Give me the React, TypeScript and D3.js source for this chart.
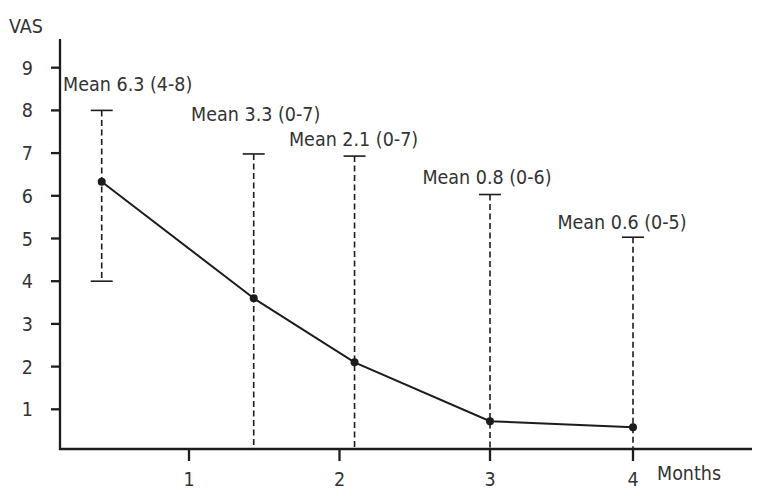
import React, { useEffect, useRef } from 'react';
import * as d3 from 'd3';

// months after treatment and plotted VAS values
const months = [0.42, 1.43, 2.1, 3, 4];
const vasMean = [6.33, 3.6, 2.1, 0.72, 0.58];
const rangeLow = [4, 0, 0, 0, 0];
const rangeHigh = [8, 6.98, 6.93, 6.03, 5.03];
const labels = ['Mean 6.3 (4-8)', 'Mean 3.3 (0-7)', 'Mean 2.1 (0-7)', 'Mean 0.8 (0-6)', 'Mean 0.6 (0-5)'];
const yTicks = [1, 2, 3, 4, 5, 6, 7, 8, 9];
const xTicks = [1, 2, 3, 4];

// label nudges relative to the top of each range bar
const labelDx = [26, 2, -1, -3, -11];
const labelDy = [-19, -33, -10, -11, -8];

const font = "'DejaVu Sans Condensed', sans-serif";

const App = () => {
    const d3svg = useRef(null);

    useEffect(() => {
        if (!d3svg.current) return;
        const svg = d3.select(d3svg.current);
        svg.selectAll('*').remove();

        const x = d3.scaleLinear().domain([0, 3, 4]).range([38.5, 490, 633]);
        const y = d3.scaleLinear().domain([0, 9]).range([452, 67.7]);
        const axisLeft = 60, axisBottom = 449, axisTop = 39, axisRight = 752;
        const ink = '#1c1c1c';
        const textInk = '#333';

        // axes
        svg.append('line').attr('x1', axisLeft).attr('x2', axisLeft)
            .attr('y1', axisTop).attr('y2', axisBottom + 1)
            .attr('stroke', ink).attr('stroke-width', 2.3);
        svg.append('line').attr('x1', axisLeft - 1).attr('x2', axisRight)
            .attr('y1', axisBottom).attr('y2', axisBottom)
            .attr('stroke', ink).attr('stroke-width', 2.3);

        svg.selectAll('.ytick').data(yTicks).enter().append('line')
            .attr('x1', axisLeft - 9).attr('x2', axisLeft)
            .attr('y1', d => y(d)).attr('y2', d => y(d))
            .attr('stroke', ink).attr('stroke-width', 2.3);
        svg.selectAll('.ylab').data(yTicks).enter().append('text')
            .attr('x', 33).attr('y', d => y(d) + 7)
            .attr('text-anchor', 'end')
            .attr('font-family', font).attr('font-size', 19.5).attr('fill', textInk)
            .text(d => d);

        svg.selectAll('.xtick').data(xTicks).enter().append('line')
            .attr('x1', d => x(d)).attr('x2', d => x(d))
            .attr('y1', axisBottom).attr('y2', axisBottom + 12)
            .attr('stroke', ink).attr('stroke-width', 2.3);
        svg.selectAll('.xlab').data(xTicks).enter().append('text')
            .attr('x', d => x(d)).attr('y', 486)
            .attr('text-anchor', 'middle')
            .attr('font-family', font).attr('font-size', 19.5).attr('fill', textInk)
            .text(d => d);

        svg.append('text').attr('x', 9).attr('y', 33.3)
            .attr('font-family', font).attr('font-size', 19.5).attr('fill', textInk)
            .text('VAS');
        svg.append('text').attr('x', 657).attr('y', 480)
            .attr('font-family', font).attr('font-size', 19.5).attr('fill', textInk)
            .text('Months');

        const rows = months.map((m, i) => ({
            m, v: vasMean[i], lo: rangeLow[i], hi: rangeHigh[i], label: labels[i], dx: labelDx[i], dy: labelDy[i]
        }));

        // range bars (dashed)
        svg.selectAll('.range').data(rows).enter().append('line')
            .attr('x1', d => x(d.m)).attr('x2', d => x(d.m))
            .attr('y1', d => y(d.hi))
            .attr('y2', d => d.lo > 0 ? y(d.lo) : axisBottom)
            .attr('stroke', ink).attr('stroke-width', 1.6)
            .attr('stroke-dasharray', '6,3.5');
        svg.selectAll('.capTop').data(rows).enter().append('line')
            .attr('x1', d => x(d.m) - 11).attr('x2', d => x(d.m) + 11)
            .attr('y1', d => y(d.hi)).attr('y2', d => y(d.hi))
            .attr('stroke', ink).attr('stroke-width', 1.6);
        svg.selectAll('.capLow').data(rows.filter(d => d.lo > 0)).enter().append('line')
            .attr('x1', d => x(d.m) - 11).attr('x2', d => x(d.m) + 11)
            .attr('y1', d => y(d.lo)).attr('y2', d => y(d.lo))
            .attr('stroke', ink).attr('stroke-width', 1.6);

        // mean line
        const line = d3.line().x(d => x(d.m)).y(d => y(d.v));
        svg.append('path').datum(rows)
            .attr('d', line)
            .attr('fill', 'none').attr('stroke', ink).attr('stroke-width', 2);
        svg.selectAll('.pt').data(rows).enter().append('circle')
            .attr('cx', d => x(d.m)).attr('cy', d => y(d.v)).attr('r', 4)
            .attr('fill', ink);

        svg.selectAll('.lab').data(rows).enter().append('text')
            .attr('x', d => x(d.m) + d.dx).attr('y', d => y(d.hi) + d.dy)
            .attr('text-anchor', 'middle')
            .attr('font-family', font).attr('font-size', 19.5).attr('fill', textInk)
            .text(d => d.label);
    }, []);

    return (
        <svg width="761" height="496" ref={d3svg} style={{ position: 'absolute', left: 0, top: 0, background: '#fff' }}></svg>
    );
};

export default App;
